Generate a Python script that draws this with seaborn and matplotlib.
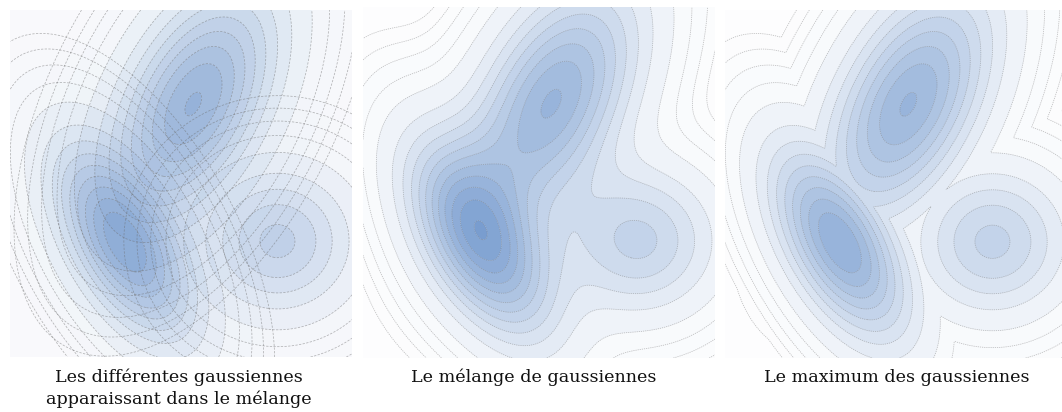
import numpy as np
import matplotlib
matplotlib.use("Agg")
import matplotlib.pyplot as plt
import seaborn as sns
from matplotlib.colors import to_rgb

# ---- data: three gaussian components (peak height, centre, spread, orientation)
comp_names = ["haut", "gauche", "droite"]
mean_x = [5.36, 3.36, 7.82]
mean_y = [7.29, 3.31, 3.34]
sigma_major = [2.50, 2.09, 1.50]
sigma_minor = [1.32, 1.02, 1.40]
angle_deg = [62.0, -60.0, 0.0]
peak = [0.91, 1.00, 0.53]

captions = [
    "Les différentes gaussiennes\napparaissant dans le mélange",
    "Le mélange de gaussiennes",
    "Le maximum des gaussiennes",
]

# ---- style
sns.set_theme(style="white")
plt.rcParams["font.family"] = ["DejaVu Serif"]

low_levels = np.array([0.0, 0.006, 0.0125, 0.025, 0.05])
high_levels = 0.1 * np.arange(1, 16)
levels = np.concatenate([low_levels, high_levels])
base = np.array(to_rgb("#4678be"))
band_alpha = [0.007 + 0.007 * i if lv < 0.1 else 0.03 + 0.58 * lv
              for i, lv in enumerate(levels[:-1])]
band_colors = [(*base, min(a, 0.95)) for a in band_alpha]

xs = np.linspace(0, 10, 400)
ys = np.linspace(0, 10, 400)
X, Y = np.meshgrid(xs, ys)


def component(i):
    th = np.deg2rad(angle_deg[i])
    dx = X - mean_x[i]
    dy = Y - mean_y[i]
    u = dx * np.cos(th) + dy * np.sin(th)
    v = -dx * np.sin(th) + dy * np.cos(th)
    d2 = (u / sigma_major[i]) ** 2 + (v / sigma_minor[i]) ** 2
    return peak[i] * np.exp(-0.5 * d2)


comps = [component(i) for i in range(len(peak))]
mixture = np.sum(comps, axis=0)
maximum = np.max(comps, axis=0)

W, H = 1062, 412
fig = plt.figure(figsize=(W / 100, H / 100), dpi=100)

# panel rectangles in pixels (left, top, width, height)
panels = [(10, 10, 342, 347), (363, 7, 352, 351), (725, 10, 342, 348)]
axes = []
for (l, t, w, h) in panels:
    ax = fig.add_axes([l / W, 1 - (t + h) / H, w / W, h / H])
    ax.set_xlim(0, 10)
    ax.set_ylim(0, 10)
    ax.axis("off")
    axes.append(ax)


def draw(ax, Z, line_alpha, dash):
    ax.contourf(X, Y, Z, levels=levels, colors=band_colors, antialiased=True)
    ax.contour(X, Y, Z, levels=levels[1:], colors="#6a6a6a", linewidths=0.55,
               linestyles=[dash], alpha=line_alpha)


for Z in comps:
    draw(axes[0], Z, 0.48, (0, (3.0, 1.8)))
draw(axes[1], mixture, 0.42, (0, (1.6, 1.2)))
draw(axes[2], maximum, 0.42, (0, (1.6, 1.2)))

caption_x = [179, 534, 897]
for cx, txt in zip(caption_x, captions):
    fig.text(cx / W, 1 - 369 / H, txt, ha="center", va="top",
             fontsize=12.6, color="#111111", linespacing=1.33)

fig.savefig("out.png", dpi=100)
